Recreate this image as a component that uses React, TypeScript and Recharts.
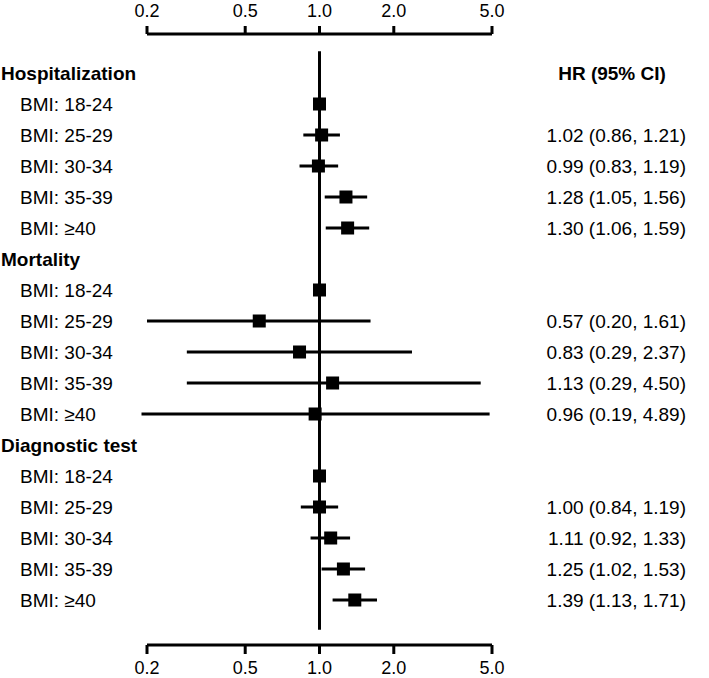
import { ReferenceLine, Scatter, ScatterChart, XAxis, YAxis } from 'recharts'

const groups = ['Hospitalization', 'Mortality', 'Diagnostic test']
const bmiLabels = ['BMI: 18-24', 'BMI: 25-29', 'BMI: 30-34', 'BMI: 35-39', 'BMI: ≥40']

// reference category (18-24) has no CI
const hospHr = [1, 1.02, 0.99, 1.28, 1.3]
const hospLo = [null, 0.86, 0.83, 1.05, 1.06]
const hospHi = [null, 1.21, 1.19, 1.56, 1.59]

const mortHr = [1, 0.57, 0.83, 1.13, 0.96]
const mortLo = [null, 0.2, 0.29, 0.29, 0.19]
const mortHi = [null, 1.61, 2.37, 4.5, 4.89]

const diagHr = [1, 1.0, 1.11, 1.25, 1.39]
const diagLo = [null, 0.84, 0.92, 1.02, 1.13]
const diagHi = [null, 1.19, 1.33, 1.53, 1.71]

const xTicks = [0.2, 0.5, 1, 2, 5]
const ciHeader = 'HR (95% CI)'

type Row = {
  y: number
  label: string
  header: boolean
  hr: number | null
  lo: number | null
  hi: number | null
}

const series = [
  [hospHr, hospLo, hospHi],
  [mortHr, mortLo, mortHi],
  [diagHr, diagLo, diagHi],
]

const rows: Row[] = []
groups.forEach((g, gi) => {
  rows.push({ y: rows.length, label: g, header: true, hr: null, lo: null, hi: null })
  const [hr, lo, hi] = series[gi]
  bmiLabels.forEach((b, i) => {
    rows.push({ y: rows.length, label: b, header: false, hr: hr[i], lo: lo[i], hi: hi[i] })
  })
})

const points = rows.filter((r) => !r.header).map((r) => ({ x: r.hr, y: r.y }))
const rowTicks = rows.map((r) => r.y)
const lastRow = rows.length - 1

const FONT = '"Liberation Sans", Arial, Helvetica, sans-serif'
const INK = '#000'
const yPad = { top: 39, bottom: 45 }

const fmt = (v: number) => v.toFixed(2)

function LeftTick(props: any) {
  const r = rows[props.payload.value]
  if (!r) return null
  return (
    <text
      x={r.header ? 1 : 20}
      y={props.y}
      dy="0.35em"
      fontSize={19}
      fontWeight={r.header ? 700 : 400}
      fill={INK}
      textAnchor="start"
    >
      {r.label}
    </text>
  )
}

function RightTick(props: any) {
  const r = rows[props.payload.value]
  if (!r) return null
  if (r.y === 0) {
    return (
      <text x={612} y={props.y} dy="0.35em" fontSize={19} fontWeight={700} fill={INK} textAnchor="middle">
        {ciHeader}
      </text>
    )
  }
  if (r.header || r.lo == null || r.hi == null || r.hr == null) return null
  return (
    <text x={686} y={props.y} dy="0.35em" fontSize={19} fill={INK} textAnchor="end">
      {`${fmt(r.hr)} (${fmt(r.lo)}, ${fmt(r.hi)})`}
    </text>
  )
}

const axisStroke = { stroke: INK, strokeWidth: 3 }
const tickStyle = { fill: INK, fontSize: 18 }

export default function App() {
  return (
    <div style={{ position: 'absolute', left: 0, top: 0, fontFamily: FONT }}>
      <ScatterChart width={709} height={678} margin={{ top: 0, right: 0, bottom: 0, left: 0 }} style={{ fontFamily: FONT }}>
        <XAxis
          xAxisId="top"
          orientation="top"
          type="number"
          dataKey="x"
          scale="log"
          domain={[0.2, 5]}
          allowDataOverflow
          ticks={xTicks}
          interval={0}
          height={34}
          tickSize={8}
          tickMargin={9}
          axisLine={axisStroke}
          tickLine={axisStroke}
          tick={tickStyle}
          tickFormatter={(v: number) => v.toFixed(1)}
        />
        <XAxis
          xAxisId="bottom"
          type="number"
          dataKey="x"
          scale="log"
          domain={[0.2, 5]}
          allowDataOverflow
          ticks={xTicks}
          interval={0}
          height={33}
          tickSize={9}
          tickMargin={7}
          axisLine={axisStroke}
          tickLine={axisStroke}
          tick={tickStyle}
          tickFormatter={(v: number) => v.toFixed(1)}
        />
        <YAxis
          yAxisId="left"
          type="number"
          dataKey="y"
          domain={[0, lastRow]}
          reversed
          ticks={rowTicks}
          interval={0}
          width={147}
          padding={yPad}
          axisLine={false}
          tickLine={false}
          tick={LeftTick}
        />
        <YAxis
          yAxisId="right"
          orientation="right"
          type="number"
          dataKey="y"
          domain={[0, lastRow]}
          reversed
          ticks={rowTicks}
          interval={0}
          width={217}
          padding={yPad}
          axisLine={false}
          tickLine={false}
          tick={RightTick}
        />
        <ReferenceLine
          xAxisId="bottom"
          yAxisId="left"
          segment={[
            { x: 1, y: -0.7 },
            { x: 1, y: lastRow + 0.96 },
          ]}
          stroke={INK}
          strokeWidth={3}
          ifOverflow="visible"
        />
        {rows
          .filter((r) => r.lo != null && r.hi != null)
          .map((r) => (
            <ReferenceLine
              key={r.y}
              xAxisId="bottom"
              yAxisId="left"
              segment={[
                { x: r.lo as number, y: r.y },
                { x: r.hi as number, y: r.y },
              ]}
              stroke={INK}
              strokeWidth={3}
              ifOverflow="visible"
            />
          ))}
        <Scatter
          data={points}
          xAxisId="bottom"
          yAxisId="left"
          isAnimationActive={false}
          shape={(p: any) => <rect x={p.cx - 6.5} y={p.cy - 6.5} width={13} height={13} fill={INK} />}
        />
        <Scatter
          data={points}
          xAxisId="top"
          yAxisId="right"
          isAnimationActive={false}
          shape={() => <g />}
        />
      </ScatterChart>
    </div>
  )
}
